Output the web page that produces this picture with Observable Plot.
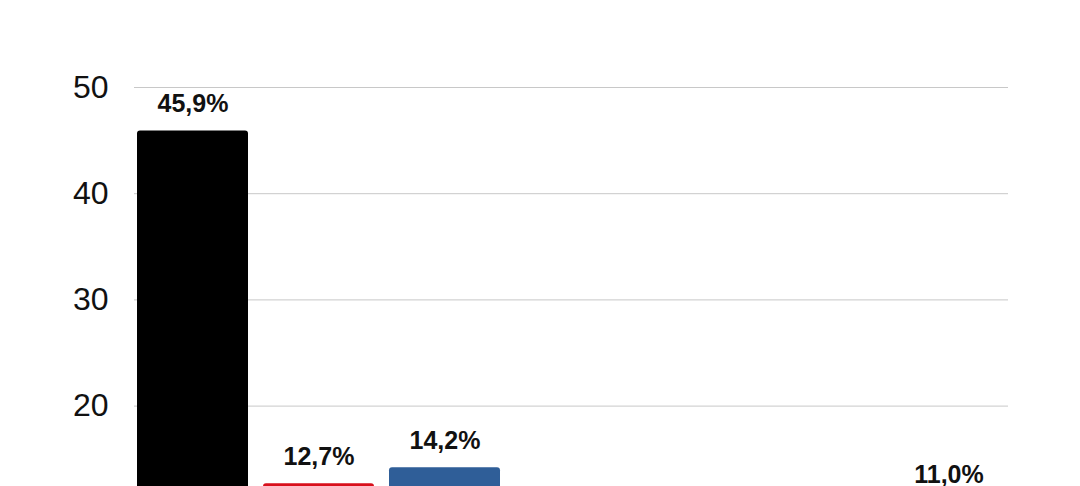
<!DOCTYPE html>
<html>
<head>
<meta charset="utf-8">
<script src="https://cdn.jsdelivr.net/npm/d3@7"></script>
<script src="https://cdn.jsdelivr.net/npm/@observablehq/plot@0.6"></script>
<style>
  html, body { margin: 0; padding: 0; background: #fff; }
  #chart svg { display: block; }
</style>
</head>
<body>
<div id="chart"></div>
<script>
const categories = ["A", "B", "C", "D", "E", "F", "G"];
const values = [45.9, 12.7, 14.2, 6.0, 5.2, 5.0, 11.0];
const colors = ["#000000", "#d8101c", "#2f5e98", "#888888", "#888888", "#888888", "#888888"];
const yTicks = [0, 10, 20, 30, 40, 50];

const data = categories.map((c, i) => ({cat: c, value: values[i], color: colors[i]}));
const fmt = v => v.toFixed(1).replace(".", ",") + "%";

const chart = Plot.plot({
  width: 1080,
  height: 700,
  marginTop: 87,
  marginBottom: 82,
  marginLeft: 134,
  marginRight: 72,
  style: {fontFamily: "Liberation Sans, Arial, sans-serif", background: "#fff"},
  x: {domain: categories, paddingInner: 0.118, paddingOuter: 0, axis: null},
  y: {domain: [0, 50], ticks: yTicks},
  marks: [
    Plot.gridY(yTicks, {stroke: "#c8c8c8", strokeOpacity: 1, strokeWidth: 1}),
    Plot.axisY(yTicks, {tickSize: 0, tickPadding: 26, fontSize: 32, label: null, fill: "#111"}),
    Plot.barY(data, {x: "cat", y: "value", fill: "color", rx: 3}),
    Plot.text(data, {x: "cat", y: "value", text: d => fmt(d.value), dy: -19, lineAnchor: "bottom", fontSize: 25, fontWeight: "bold", fill: "#111"})
  ]
});
document.getElementById("chart").appendChild(chart);
</script>
</body>
</html>
